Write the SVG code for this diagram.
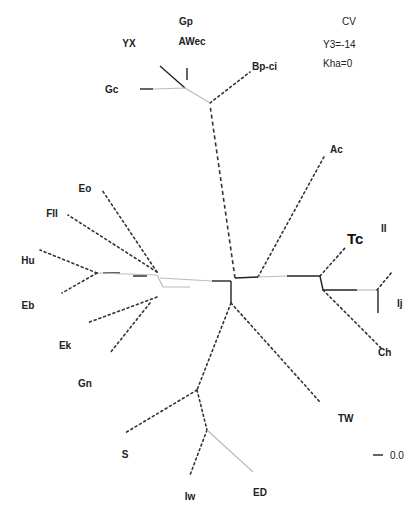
<svg xmlns="http://www.w3.org/2000/svg" width="417" height="507" viewBox="0 0 417 507">
<style>
.br{fill:none;stroke:#333;stroke-width:1.6;stroke-dasharray:2 3;stroke-linecap:round}
.ds{fill:none;stroke:#333;stroke-width:1.6;stroke-dasharray:4 3}
.sl{fill:none;stroke:#222;stroke-width:1.4}
.fa{fill:none;stroke:#bbb;stroke-width:1.2}
.lb{font-family:"Liberation Sans",Arial,sans-serif;font-size:10px;font-weight:bold;fill:#222}
.lg{font-family:"Liberation Sans",Arial,sans-serif;font-size:10px;fill:#222}
</style>
<rect width="417" height="507" fill="#fff"/>
<g id="connectors">
  <path class="ds" d="M235 278 L210 105"/>
  <path class="br" d="M210 103 L250 72"/>
  <path class="fa" d="M210 103 L185 88"/>
  <path class="sl" d="M185 88 L160 66"/>
  <path class="sl" d="M187 80 L187 68"/>
  <path class="sl" d="M153 89 L140 89"/>
  <path class="fa" d="M185 88 L153 89"/>
  <path class="sl" d="M235 278 L258 277"/>
  <path class="br" d="M258 277 L325 155"/>
  <path class="sl" d="M287 276 L320 276"/>
  <path class="fa" d="M258 277 L287 276"/>
  <path class="sl" d="M320 276 L323 290 L357 290"/>
  <path class="fa" d="M357 290 L377 290"/>
  <path class="br" d="M377 290 L392 272"/>
  <path class="sl" d="M378 290 L378 313"/>
  <path class="br" d="M323 290 L383 350"/>
  <path class="br" d="M320 276 L345 248"/>
  <path class="sl" d="M231 281 L231 303"/>
  <path class="sl" d="M212 281 L231 281"/>
  <path class="br" d="M231 303 L197 390"/>
  <path class="br" d="M197 390 L125 433"/>
  <path class="br" d="M197 390 L207 430"/>
  <path class="br" d="M207 430 L190 475"/>
  <path class="fa" d="M207 430 L253 472"/>
  <path class="br" d="M231 303 L320 402"/>
  <path class="fa" d="M160 278 L212 281"/>
  <path class="br" d="M157 272 L102 190"/>
  <path class="br" d="M157 272 L68 215"/>
  <path class="sl" d="M103 273 L120 273"/>
  <path class="sl" d="M133 276 L147 276"/>
  <path class="fa" d="M97 273 L157 275"/>
  <path class="br" d="M97 273 L40 250"/>
  <path class="br" d="M97 273 L62 293"/>
  <path class="br" d="M157 297 L87 323"/>
  <path class="br" d="M150 303 L110 353"/>
  <path class="fa" d="M157 275 L163 287 L190 287"/>
  <path class="sl" d="M373 455 L383 455"/>
</g>
<g id="n-bp"><text class="lb" x="252" y="70">Bp-ci</text></g>
<g id="n-gp"><text class="lb" x="186" y="25" text-anchor="middle">Gp</text><text class="lb" x="192" y="45" text-anchor="middle">AWec</text></g>
<g id="n-yx"><text class="lb" x="129" y="47" text-anchor="middle">YX</text></g>
<g id="n-gc"><text class="lb" x="105" y="93">Gc</text></g>
<g id="n-ac"><text class="lb" x="330" y="153">Ac</text></g>
<g id="n-tc"><text x="347" y="244" style="font-family:'Liberation Sans',Arial,sans-serif;font-size:15px;font-weight:bold;fill:#111">Tc</text><text class="lb" x="381" y="232">II</text></g>
<g id="n-ij"><text class="lb" x="397" y="307">Ij</text></g>
<g id="n-ch"><text class="lb" x="378" y="356">Ch</text></g>
<g id="n-tw"><text class="lb" x="338" y="422">TW</text></g>
<g id="n-s"><text class="lb" x="125" y="458" text-anchor="middle">S</text></g>
<g id="n-iw"><text class="lb" x="190" y="500" text-anchor="middle">Iw</text></g>
<g id="n-ed"><text class="lb" x="260" y="496" text-anchor="middle">ED</text></g>
<g id="n-eo"><text class="lb" x="85" y="192" text-anchor="middle">Eo</text></g>
<g id="n-fii"><text class="lb" x="52" y="217" text-anchor="middle">FII</text></g>
<g id="n-hu"><text class="lb" x="28" y="264" text-anchor="middle">Hu</text></g>
<g id="n-eb"><text class="lb" x="28" y="309" text-anchor="middle">Eb</text></g>
<g id="n-ek"><text class="lb" x="65" y="349" text-anchor="middle">Ek</text></g>
<g id="n-gn"><text class="lb" x="85" y="387" text-anchor="middle">Gn</text></g>
<g id="legend"><text class="lg" x="342" y="25">CV</text><text class="lg" x="323" y="48">Y3=-14</text><text class="lg" x="323" y="67">Kha=0</text></g>
<g id="scale"><text class="lg" x="390" y="459">0.0</text></g>
</svg>
